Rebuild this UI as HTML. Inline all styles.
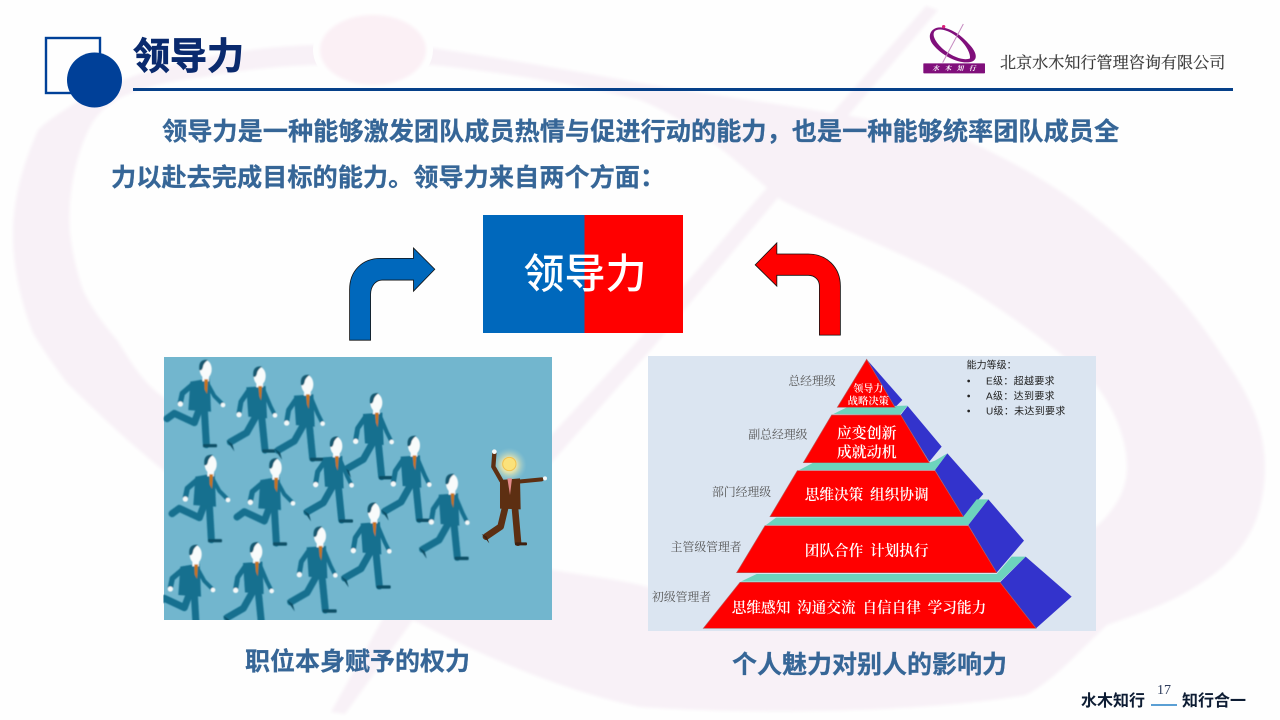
<!DOCTYPE html>
<html lang="zh"><head><meta charset="utf-8"><title>领导力</title>
<style>
html,body{margin:0;padding:0;width:1280px;height:720px;overflow:hidden;background:#fefefe}
svg{display:block}
.s{font-family:"Liberation Sans","Noto Sans CJK SC",sans-serif}
.f{font-family:"Liberation Serif","Noto Serif CJK SC",serif}
</style></head><body>
<svg width="1280" height="720" viewBox="0 0 1280 720" xmlns="http://www.w3.org/2000/svg">
<defs>
<filter id="soft" x="-5%" y="-5%" width="110%" height="110%"><feGaussianBlur stdDeviation="1.3"/></filter>
<filter id="wm" x="-5%" y="-5%" width="110%" height="110%"><feGaussianBlur stdDeviation="1.5"/></filter>
<clipPath id="pc"><rect x="12" y="21" width="1164" height="789"/></clipPath>
<radialGradient id="glow"><stop offset="0" stop-color="#fff6b0"/><stop offset=".45" stop-color="#f5e9a8" stop-opacity=".8"/><stop offset="1" stop-color="#9fd0d8" stop-opacity="0"/></radialGradient>
<g id="run">
<g fill="none" stroke="#15708f" stroke-linecap="round" stroke-linejoin="round">
<polyline points="-35,72 -68,100 -74,128" stroke-width="16"/>
<polyline points="6,68 28,108 52,132" stroke-width="12"/>
<polyline points="-18,150 -32,188 -92,160 -114,176" stroke-width="21"/>
<polyline points="-2,150 4,254" stroke-width="21"/>
</g>
<polygon points="-44,65 14,55 18,155 -50,150" fill="#15708f"/>
<rect x="-8" y="42" width="20" height="22" fill="#f8fbfb"/>
<polygon points="-2,58 9,58 6,102 -1,88" fill="#c9741d"/>
<ellipse cx="2" cy="28" rx="18" ry="27" fill="#f8fbfb"/>
<path d="M-17,30C-20,5-8,-3 9,0C1,5-5,12-6,20C-8,28-11,33-17,30Z" fill="#14586f"/>
<rect x="-6" y="252" width="42" height="10" rx="3" fill="#104f66"/>
<circle cx="-74" cy="132" r="8" fill="#f5f8f8"/><circle cx="54" cy="135" r="7" fill="#f5f8f8"/>
</g>
<g id="walk">
<g fill="none" stroke="#15708f" stroke-linecap="round" stroke-linejoin="round">
<polyline points="-28,70 -52,105 -58,140" stroke-width="15"/>
<polyline points="14,66 36,118 48,142" stroke-width="12"/>
<polyline points="-8,150 -35,198 -84,226" stroke-width="21"/>
<polyline points="10,150 20,250" stroke-width="21"/>
</g>
<polygon points="-36,62 22,58 26,155 -30,150" fill="#15708f"/>
<rect x="-6" y="42" width="20" height="20" fill="#f8fbfb"/>
<polygon points="0,58 11,58 8,102 3,88" fill="#c9741d"/>
<ellipse cx="4" cy="28" rx="18" ry="27" fill="#f8fbfb"/>
<path d="M-15,30C-18,5-6,-3 11,0C3,5-3,12-4,20C-6,28-9,33-15,30Z" fill="#14586f"/>
<rect x="12" y="248" width="42" height="10" rx="3" fill="#104f66"/>
<polygon points="-96,220 -78,232 -72,254" fill="#104f66"/>
<circle cx="-58" cy="144" r="8" fill="#f5f8f8"/><circle cx="50" cy="146" r="7" fill="#f5f8f8"/>
</g>
</defs>

<!-- watermark -->
<g fill="#f8f1f7" filter="url(#wm)">
<path fill-rule="evenodd" d="M13,235C13,195 25,160 38,130C50,118 65,110 80,100C120,78 160,66 204,58C240,50 280,46 314,45L433,48C500,58 580,72 640,83C740,100 870,115 966,140C1010,160 1055,185 1090,213C1150,260 1190,305 1223,357C1250,395 1265,430 1265,467C1265,490 1260,515 1250,533C1235,560 1215,575 1190,590C1165,605 1135,615 1107,625C1080,650 1055,680 1026,695C930,712 760,715 640,707C560,690 480,655 413,620C320,570 240,525 163,470C120,435 95,410 67,383C50,360 40,345 33,333C20,300 13,265 13,235ZM70,233C67,200 75,155 90,127C98,112 110,103 122,97C150,85 175,80 204,77C240,70 280,66 314,65L433,65C500,72 580,85 640,100C700,125 740,165 781,200C840,230 910,255 966,287C1010,315 1060,350 1096,385C1115,410 1127,440 1127,467C1127,490 1115,510 1096,527C1030,575 960,610 900,620C800,625 700,600 640,585C610,578 580,575 553,570C500,550 450,525 400,500C320,465 240,440 163,397C140,380 130,360 117,340C100,320 90,305 83,290C76,270 72,250 70,233Z"/>
<polygon points="926,6 938,10 772,205 655,345 413,620 345,714 331,712 382,620 634,345 752,205"/>
</g>
<ellipse cx="373" cy="50" rx="60" ry="42" fill="#fefefe"/>
<ellipse cx="373" cy="50" rx="53" ry="35" fill="#fbf0f5" filter="url(#wm)"/>

<!-- header -->
<rect x="46" y="38" width="54" height="55" fill="none" stroke="#004098" stroke-width="2.4"/>
<circle cx="94.5" cy="80" r="27.5" fill="#004098"/>
<text class="s" x="133" y="69" font-size="37" font-weight="700" fill="#0a2a6e" stroke="#0a2a6e" stroke-width=".8">领导力</text>
<rect x="133" y="88" width="1100" height="3" fill="#064089"/>

<!-- logo -->
<g transform="translate(900,10) scale(.3333)">
<path fill-rule="evenodd" fill="#800f7b" d="M98,60C120,40 170,60 205,100C235,130 235,155 205,157C170,160 125,135 100,105C88,90 85,72 98,60ZM103,65C95,78 110,102 135,122C165,145 195,152 210,145C212,128 195,100 170,80C145,60 115,52 103,65Z"/>
<line x1="190" y1="42" x2="128" y2="158" stroke="#c58ac0" stroke-width="3"/>
<circle cx="131" cy="50" r="5" fill="#d9207a"/>
<rect x="70" y="160" width="185" height="30" rx="2" fill="#800f7b"/>
<text class="f" x="162" y="182" font-size="20" font-weight="700" fill="#fff" font-style="italic" text-anchor="middle" textLength="130">水木知行</text>
</g>
<text class="f" x="1000" y="68" font-size="16.1" fill="#3a3a3a" stroke="#3a3a3a" stroke-width=".2">北京水木知行管理咨询有限公司</text>

<!-- body -->
<g class="s" font-size="25.2" font-weight="700" fill="#366697" stroke="#366697" stroke-width=".25">
<text x="162" y="140">领导力是一种能够激发团队成员热情与促进行动的能力，也是一种能够统率团队成员全</text>
<text x="111" y="186">力以赴去完成目标的能力。领导力来自两个方面：</text>
<text x="245" y="670" font-size="25">职位本身赋予的权力</text>
<text x="732" y="673" font-size="25">个人魅力对别人的影响力</text>
</g>

<!-- centre box -->
<rect x="483" y="215" width="101.5" height="118" fill="#0068bc"/>
<rect x="584.5" y="215" width="98.5" height="118" fill="#ff0000"/>
<text class="s" x="585" y="288" font-size="41" font-weight="500" fill="#fff" text-anchor="middle">领导力</text>

<!-- arrows -->
<g transform="translate(330,205) scale(.338)" stroke="#111" stroke-width="2.4">
<path fill="#0068bc" d="M58,400H120V265C120,240 135,222 155,222H247V255L310,190L247,127V158H150C95,158 58,195 58,250Z"/>
<path fill="#ff0000" d="M1448,385H1510V240C1510,185 1470,145 1415,145H1322V112L1258,177L1322,240V208H1415C1435,208 1448,222 1448,240Z"/>
</g>

<!-- people image -->
<rect x="164" y="357" width="388" height="263" fill="#72b6ce"/>
<g transform="translate(160,350) scale(.33333)">
<g clip-path="url(#pc)">
<g filter="url(#soft)">
<use href="#run" x="135" y="30"/>
<use href="#walk" x="295" y="50"/>
<use href="#walk" x="438" y="75"/>
<use href="#walk" x="645" y="130"/>
<use href="#walk" x="525" y="260"/>
<use href="#walk" x="758" y="258"/>
<use href="#run" x="150" y="315"/>
<use href="#run" x="345" y="325"/>
<use href="#walk" x="872" y="372"/>
<use href="#walk" x="638" y="458"/>
<use href="#walk" x="476" y="530"/>
<use href="#run" x="105" y="585"/>
<use href="#walk" x="285" y="577"/>
</g>
<circle cx="1048" cy="345" r="52" fill="url(#glow)"/>
<circle cx="1048" cy="342" r="20" fill="#fbe27a" stroke="#f2c14e" stroke-width="3"/>
<g fill="none" stroke="#5d2f12" stroke-linecap="round" stroke-linejoin="round">
<polyline points="1024,392 1000,350 1003,310" stroke-width="13"/>
<polyline points="1075,395 1145,388" stroke-width="12"/>
<polyline points="1035,475 1022,530 978,560" stroke-width="20"/>
<polyline points="1065,475 1074,578" stroke-width="20"/>
</g>
<polygon points="1020,390 1080,385 1082,478 1020,476" fill="#5d2f12"/>
<polygon points="1042,385 1056,385 1050,435" fill="#e58a8a"/>
<rect x="1065" y="577" width="36" height="9" rx="3" fill="#3e2010"/>
<polygon points="965,552 980,560 988,580" fill="#3e2010"/>
<circle cx="1003" cy="305" r="7" fill="#f5f8f8"/><circle cx="1155" cy="385" r="6" fill="#f5f8f8"/>
</g></g>

<!-- pyramid image -->
<rect x="648" y="356" width="448" height="275" fill="#dbe5f1"/>
<g transform="translate(640,350) scale(.33333)">
<g fill="#3333cc">
<polygon points="680,28 787,150 765,172"/>
<polygon points="782,195 803,168 905,290 868,335"/>
<polygon points="885,360 922,310 1030,432 970,500"/>
<polygon points="985,525 1045,448 1152,572 1070,668"/>
<polygon points="1080,697 1157,620 1295,740 1188,835"/>
</g>
<g fill="#6dd3bd">
<polygon points="580,192 625,170 803,167 780,194"/>
<polygon points="478,360 520,338 868,338 885,332 922,310 885,360"/>
<polygon points="378,525 408,503 970,500 1010,448 1045,448 985,525"/>
<polygon points="302,695 350,672 1070,672 1115,620 1157,620 1080,695"/>
</g>
<g fill="#ff0000" stroke="#b85a5a" stroke-width="2">
<polygon points="680,28 765,172 592,172"/>
<polygon points="575,195 782,195 868,338 490,338"/>
<polygon points="472,362 885,362 970,500 390,500"/>
<polygon points="375,527 985,527 1070,668 290,668"/>
<polygon points="300,697 1080,697 1188,835 190,835"/>
</g>
<g class="f" fill="#fff" font-weight="600" text-anchor="middle" word-spacing="9">
<text x="685" y="126" font-size="30">领导力</text>
<text x="685" y="163" font-size="31">战略决策</text>
<text x="680" y="264" font-size="45">应变创新</text>
<text x="680" y="321" font-size="45">成就动机</text>
<text x="680" y="449" font-size="44">思维决策 组织协调</text>
<text x="680" y="617" font-size="44">团队合作 计划执行</text>
<text x="657" y="787" font-size="44">思维感知 沟通交流 自信自律 学习能力</text>
</g>
<g class="f" fill="#555" font-size="35.5">
<text x="445" y="105">总经理级</text>
<text x="325" y="266">副总经理级</text>
<text x="216" y="438">部门经理级</text>
<text x="92" y="603">主管级管理者</text>
<text x="36" y="753">初级管理者</text>
</g>
<g class="s" fill="#222" font-size="30">
<text x="980" y="56">能力等级：</text>
<text x="1038" y="103" textLength="206">E级：超越要求</text>
<text x="1038" y="148" textLength="206">A级：达到要求</text>
<text x="1038" y="193" textLength="238">U级：未达到要求</text>
<circle cx="986" cy="93" r="4"/><circle cx="986" cy="138" r="4"/><circle cx="986" cy="183" r="4"/>
</g>
</g>

<!-- footer -->
<g class="s" font-size="16" font-weight="700" fill="#0d1c33">
<text x="1081" y="706">水木知行</text>
<text x="1182" y="706">知行合一</text>
</g>
<text class="f" x="1164" y="694" font-size="14" fill="#2c3a5a" text-anchor="middle">17</text>
<rect x="1151" y="704" width="26" height="2" fill="#5a9fd4"/>
</svg>
</body></html>
